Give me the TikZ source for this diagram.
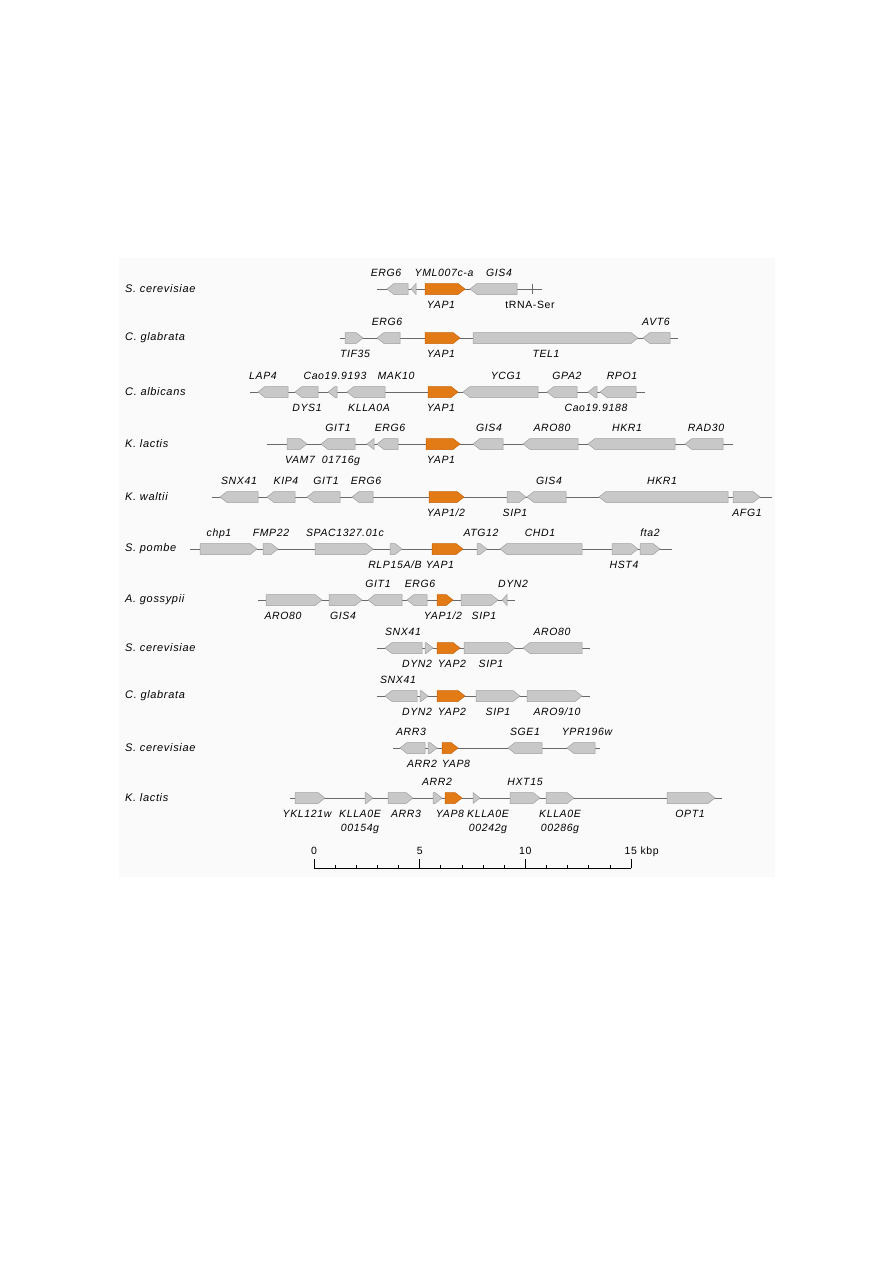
\documentclass[tikz,border=0pt]{standalone}
\usepackage{fontspec}
\setmainfont{Liberation Sans}[LetterSpace=6]
\usepackage{xcolor}
\usepackage{tikz}
\usetikzlibrary{calc}

\definecolor{genegray}{RGB}{200,200,200}
\definecolor{geneedge}{RGB}{160,160,160}
\definecolor{yaporange}{RGB}{226,122,22}
\definecolor{yapedge}{RGB}{200,100,10}
\definecolor{chromline}{RGB}{105,105,105}
\definecolor{panelbg}{RGB}{250,250,250}

% gene arrows: optional style, start, end (in px along the row)
\newcommand{\genefwd}[3][gene]{%
  \filldraw[#1] (#2,-5.5) -- ({max(#2,#3-7)},-5.5) -- (#3,0) -- ({max(#2,#3-7)},5.5) -- (#2,5.5) -- cycle;}
\newcommand{\generev}[3][gene]{%
  \filldraw[#1] (#2,0) -- ({min(#3,#2+7)},-5.5) -- (#3,-5.5) -- (#3,5.5) -- ({min(#3,#2+7)},5.5) -- cycle;}

\begin{document}
\begin{tikzpicture}[x=1pt, y=-1pt,
    gene/.style={fill=genegray, draw=geneedge, line width=0.5pt},
    yap/.style={fill=yaporange, draw=yapedge, line width=0.5pt},
    chrom/.style={draw=chromline, line width=1pt},
    every node/.style={inner sep=0pt, font=\fontsize{10.5}{12}\selectfont},
    lbl/.style={anchor=base, font=\fontsize{10.5}{12}\selectfont\itshape},
    species/.style={anchor=west, font=\fontsize{11}{13}\selectfont\itshape}]
    \useasboundingbox (0,0) rectangle (893,1263);
    \fill[panelbg] (119,258) rectangle (775,877);

    % S. cerevisiae: YAP1
    \begin{scope}[shift={(0,289)}]
        \node[species] (sp1) at (125,0) {S. cerevisiae};
        \draw[chrom] (377,0) -- (542,0);
        \generev{387}{408}
        \generev{411}{416}
        \genefwd[yap]{425}{465}
        \generev{470}{517}
        \draw[chromline, line width=0.6pt] (532,-5) -- (532,5);
        \node[lbl] at (386,-13) {ERG6};
        \node[lbl] at (444,-13) {YML007c-a};
        \node[lbl] at (499,-13) {GIS4};
        \node[lbl] at (441,19.5) {YAP1};
        \node[anchor=base] at (530,19.5) {tRNA-Ser};
    \end{scope}

    % C. glabrata: YAP1
    \begin{scope}[shift={(0,338)}]
        \node[species] (sp2) at (125,0) {C. glabrata};
        \draw[chrom] (340,0) -- (678,0);
        \genefwd{345}{363}
        \generev{377}{400}
        \genefwd[yap]{425}{460}
        \genefwd{473}{638}
        \generev{643}{670}
        \node[lbl] at (387,-13) {ERG6};
        \node[lbl] at (656,-13) {AVT6};
        \node[lbl] at (355,19.5) {TIF35};
        \node[lbl] at (441,19.5) {YAP1};
        \node[lbl] at (546,19.5) {TEL1};
    \end{scope}

    % C. albicans: YAP1
    \begin{scope}[shift={(0,392)}]
        \node[species] (sp3) at (125,0) {C. albicans};
        \draw[chrom] (250,0) -- (645,0);
        \generev{258}{288}
        \generev{295}{318}
        \generev{328}{337}
        \generev{347}{385}
        \genefwd[yap]{428}{458}
        \generev{463}{538}
        \generev{547}{577}
        \generev{588}{597}
        \generev{600}{636}
        \node[lbl] at (263,-13) {LAP4};
        \node[lbl] at (335,-13) {Cao19.9193};
        \node[lbl] at (396,-13) {MAK10};
        \node[lbl] at (506,-13) {YCG1};
        \node[lbl] at (567,-13) {GPA2};
        \node[lbl] at (622,-13) {RPO1};
        \node[lbl] at (307,19.5) {DYS1};
        \node[lbl] at (369,19.5) {KLLA0A};
        \node[lbl] at (441,19.5) {YAP1};
        \node[lbl] at (596,19.5) {Cao19.9188};
    \end{scope}

    % K. lactis: YAP1
    \begin{scope}[shift={(0,444)}]
        \node[species] (sp4) at (125,0) {K. lactis};
        \draw[chrom] (267,0) -- (733,0);
        \genefwd{287}{307}
        \generev{321}{355}
        \generev{367}{374}
        \generev{377}{398}
        \genefwd[yap]{426}{460}
        \generev{473}{503}
        \generev{523}{578}
        \generev{588}{675}
        \generev{685}{723}
        \node[lbl] at (338,-13) {GIT1};
        \node[lbl] at (390,-13) {ERG6};
        \node[lbl] at (489,-13) {GIS4};
        \node[lbl] at (552,-13) {ARO80};
        \node[lbl] at (627,-13) {HKR1};
        \node[lbl] at (706,-13) {RAD30};
        \node[lbl] at (300,19.5) {VAM7};
        \node[lbl] at (341,19.5) {01716g};
        \node[lbl] at (441,19.5) {YAP1};
    \end{scope}

    % K. waltii: YAP1/2
    \begin{scope}[shift={(0,497)}]
        \node[species] (sp5) at (125,0) {K. waltii};
        \draw[chrom] (212,0) -- (772,0);
        \generev{220}{258}
        \generev{267}{295}
        \generev{307}{340}
        \generev{352}{373}
        \genefwd[yap]{429}{464}
        \genefwd{507}{526}
        \generev{527}{566}
        \generev{599}{728}
        \genefwd{733}{760}
        \node[lbl] at (239,-13) {SNX41};
        \node[lbl] at (286,-13) {KIP4};
        \node[lbl] at (326,-13) {GIT1};
        \node[lbl] at (366,-13) {ERG6};
        \node[lbl] at (549,-13) {GIS4};
        \node[lbl] at (662,-13) {HKR1};
        \node[lbl] at (446,19.5) {YAP1/2};
        \node[lbl] at (515,19.5) {SIP1};
        \node[lbl] at (747,19.5) {AFG1};
    \end{scope}

    % S. pombe: YAP1
    \begin{scope}[shift={(0,549)}]
        \node[species] (sp6) at (125,0) {S. pombe};
        \draw[chrom] (190,0) -- (672,0);
        \genefwd{200}{257}
        \genefwd{263}{278}
        \genefwd{315}{373}
        \genefwd{390}{402}
        \genefwd[yap]{432}{463}
        \genefwd{477}{487}
        \generev{500}{582}
        \genefwd{612}{638}
        \genefwd{640}{660}
        \node[lbl] at (219,-13) {chp1};
        \node[lbl] at (271,-13) {FMP22};
        \node[lbl] at (345,-13) {SPAC1327.01c};
        \node[lbl] at (481,-13) {ATG12};
        \node[lbl] at (540,-13) {CHD1};
        \node[lbl] at (650,-13) {fta2};
        \node[lbl] at (395,19.5) {RLP15A/B};
        \node[lbl] at (440,19.5) {YAP1};
        \node[lbl] at (624,19.5) {HST4};
    \end{scope}

    % A. gossypii: YAP1/2
    \begin{scope}[shift={(0,600)}]
        \node[species] (sp7) at (125,0) {A. gossypii};
        \draw[chrom] (258,0) -- (515,0);
        \genefwd{266}{322}
        \genefwd{329}{362}
        \generev{368}{402}
        \generev{407}{427}
        \genefwd[yap]{437}{453}
        \genefwd{461}{498}
        \generev{502}{507}
        \node[lbl] at (378,-13) {GIT1};
        \node[lbl] at (420,-13) {ERG6};
        \node[lbl] at (513,-13) {DYN2};
        \node[lbl] at (283,19.5) {ARO80};
        \node[lbl] at (343,19.5) {GIS4};
        \node[lbl] at (443,19.5) {YAP1/2};
        \node[lbl] at (484,19.5) {SIP1};
    \end{scope}

    % S. cerevisiae: YAP2
    \begin{scope}[shift={(0,648)}]
        \node[species] (sp8) at (125,0) {S. cerevisiae};
        \draw[chrom] (377,0) -- (590,0);
        \generev{385}{422}
        \genefwd{425}{433}
        \genefwd[yap]{437}{460}
        \genefwd{464}{515}
        \generev{523}{582}
        \node[lbl] at (403,-13) {SNX41};
        \node[lbl] at (552,-13) {ARO80};
        \node[lbl] at (417,19.5) {DYN2};
        \node[lbl] at (452,19.5) {YAP2};
        \node[lbl] at (491,19.5) {SIP1};
    \end{scope}

    % C. glabrata: YAP2
    \begin{scope}[shift={(0,696)}]
        \node[species] (sp9) at (125,0) {C. glabrata};
        \draw[chrom] (377,0) -- (590,0);
        \generev{385}{417}
        \genefwd{420}{428}
        \genefwd[yap]{437}{465}
        \genefwd{476}{520}
        \genefwd{527}{582}
        \node[lbl] at (398,-13) {SNX41};
        \node[lbl] at (417,19.5) {DYN2};
        \node[lbl] at (452,19.5) {YAP2};
        \node[lbl] at (498,19.5) {SIP1};
        \node[lbl] at (557,19.5) {ARO9/10};
    \end{scope}

    % S. cerevisiae: YAP8
    \begin{scope}[shift={(0,748)}]
        \node[species] (sp10) at (125,0) {S. cerevisiae};
        \draw[chrom] (393,0) -- (600,0);
        \generev{400}{425}
        \genefwd{428}{437}
        \genefwd[yap]{442}{458}
        \generev{508}{542}
        \generev{567}{595}
        \node[lbl] at (411,-13) {ARR3};
        \node[lbl] at (525,-13) {SGE1};
        \node[lbl] at (587,-13) {YPR196w};
        \node[lbl] at (422,19.5) {ARR2};
        \node[lbl] at (456,19.5) {YAP8};
    \end{scope}

    % K. lactis: YAP8
    \begin{scope}[shift={(0,798)}]
        \node[species] (sp11) at (125,0) {K. lactis};
        \draw[chrom] (290,0) -- (722,0);
        \genefwd{295}{325}
        \genefwd{365}{373}
        \genefwd{388}{413}
        \genefwd{433}{442}
        \genefwd[yap]{445}{462}
        \genefwd{473}{480}
        \genefwd{510}{540}
        \genefwd{546}{574}
        \genefwd{667}{715}
        \node[lbl] at (437,-13) {ARR2};
        \node[lbl] at (525,-13) {HXT15};
        \node[lbl] at (307,19.5) {YKL121w};
        \node[lbl] at (360,19.5) {KLLA0E};
        \node[lbl] at (360,33.5) {00154g};
        \node[lbl] at (406,19.5) {ARR3};
        \node[lbl] at (450,19.5) {YAP8};
        \node[lbl] at (488,19.5) {KLLA0E};
        \node[lbl] at (488,33.5) {00242g};
        \node[lbl] at (560,19.5) {KLLA0E};
        \node[lbl] at (560,33.5) {00286g};
        \node[lbl] at (690,19.5) {OPT1};
    \end{scope}

    % Scale bar (1 kbp = 21.13 px)
    \begin{scope}[shift={(0,868)}]
        \draw[line width=0.8pt] (314,0) -- (631,0);
        \foreach \k in {0,...,15}
            \draw[line width=0.6pt] (314+21.13*\k,0) -- ++(0,-3);
        \foreach \k in {0,5,10,15}
            \draw[line width=0.8pt] (314+21.13*\k,0) -- ++(0,-9);
        \node[anchor=base] (s0) at (314,-14) {0};
        \node[anchor=base] (s5) at (419.7,-14) {5};
        \node[anchor=base] (s10) at (525.3,-14) {10};
        \node[anchor=base west] (s15) at (624.5,-14) {15 kbp};
    \end{scope}
\end{tikzpicture}
\end{document}
